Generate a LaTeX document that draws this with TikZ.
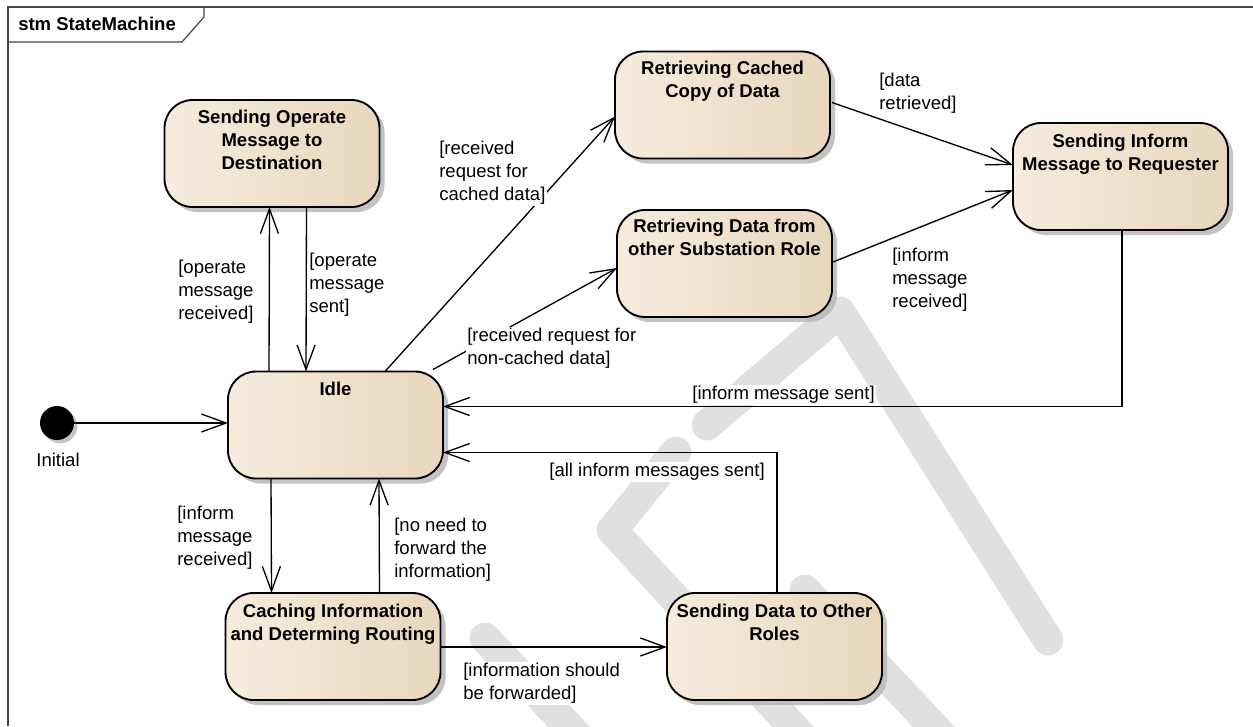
\documentclass[tikz,border=0pt]{standalone}
\usepackage{fontspec}
\setmainfont{Liberation Sans}
\usetikzlibrary{arrows.meta,calc,shadows}

\definecolor{wm}{RGB}{224,224,224}
\definecolor{stL}{RGB}{246,236,221}
\definecolor{stM}{RGB}{252,245,235}
\definecolor{stR}{RGB}{232,215,190}
\definecolor{shd}{RGB}{185,185,185}
\definecolor{frm}{RGB}{70,70,70}

\newcommand\stnfont{\bfseries\fontsize{13.9pt}{17.3pt}\selectfont}
\newcommand\lblfont{\fontsize{13.9pt}{17.3pt}\selectfont}

\tikzset{
  state/.style={rectangle, rounded corners=21pt, draw=black, line width=1.4pt,
    minimum width=161.25pt, minimum height=80.25pt, inner sep=0pt, outer sep=0pt,
    left color=stL, middle color=stM, right color=stR,
    drop shadow={shadow xshift=3.8pt, shadow yshift=-3.8pt, fill=shd, opacity=0.85}},
  stname/.style={font=\stnfont, align=center, inner sep=0pt, anchor=north},
  guard/.style={font=\lblfont, align=left, inner sep=1pt, fill=white},
  tr/.style={draw=black, line width=1pt,
    -{Straight Barb[length=18.5pt, width=13.5pt, line width=1pt]}},
  wmband/.style={draw=wm, line width=23pt, line cap=round, line join=round},
}

\begin{document}
\begin{tikzpicture}[x=0.75pt, y=-0.75pt]
\useasboundingbox (0,0) rectangle (1253,726);
\fill[white] (0,0) rectangle (1253,726);

% faint background mark
\begin{scope}
  \clip (0,0) rectangle (1253,726);
  \draw[wmband] (707,425) -- (840,312) -- (1048,640);
  \draw[wmband] (676,452) -- (612,530) -- (805,740);
  \draw[wmband] (805,590) -- (965,760);
  \draw[wmband] (485,638) -- (605,765);
\end{scope}

% diagram frame and its name tab
\draw[frm, line width=0.9pt] (8,726) -- (8,7) -- (1253,7);
\draw[frm, line width=0.9pt] (8,42) -- (182,42) -- (204,17) -- (204,7);
\node[font=\stnfont, anchor=west, inner sep=0pt] (title) at (18,24) {stm StateMachine};

% states
\node[state] (op)   at (272,153.5) {};
\node[state] (rc)   at (722.5,105) {};
\node[state] (rd)   at (724.5,263.5) {};
\node[state] (si)   at (1120.5,176.5) {};
\node[state] (idle) at (335.5,425) {};
\node[state] (ca)   at (333,646.5) {};
\node[state] (sd)   at (774.5,646.5) {};

\node[stname] (opT)   at ($(op.north)+(0,10)$)   {Sending Operate\\Message to\\Destination};
\node[stname] (rcT)   at ($(rc.north)+(0,9)$)    {Retrieving Cached\\Copy of Data};
\node[stname] (rdT)   at ($(rd.north)+(0,9)$)    {Retrieving Data from\\other Substation Role};
\node[stname] (siT)   at ($(si.north)+(0,11)$)   {Sending Inform\\Message to Requester};
\node[stname] (idleT) at ($(idle.north)+(0,10)$) {Idle};
\node[stname] (caT)   at ($(ca.north)+(0,11)$)   {Caching Information\\and Determing Routing};
\node[stname] (sdT)   at ($(sd.north)+(0,11)$)   {Sending Data to Other\\Roles};

% initial pseudostate
\node[circle, fill=black, minimum size=25.5pt, inner sep=0pt,
  drop shadow={shadow xshift=2.5pt, shadow yshift=-2.5pt, fill=shd, opacity=0.85}] (init) at (57,423) {};
\node[font=\lblfont, inner sep=0pt] (initL) at (58,460) {Initial};

% transitions
\draw[tr] (init) -- (init -| idle.west);
\draw[tr] ($(idle.north west)+(41,0)$) -- ($(op.south west)+(105,0)$);
\draw[tr] ($(op.south west)+(142,0)$) -- ($(idle.north west)+(78,0)$);
\draw[tr] ($(idle.north west)+(157,0)$) -- ($(rc.north west)+(0,65)$);
\draw[tr] ($(idle.north west)+(205,-2)$) -- ($(rd.north west)+(0,58)$);
\draw[tr] ($(rc.north east)+(2,51)$) -- ($(si.north west)+(0,42)$);
\draw[tr] ($(rd.north east)+(1,52)$) -- ($(si.north west)+(0,67)$);
\draw[tr] ($(si.south west)+(109,0)$) |- ($(idle.north east)+(0,35)$);
\draw[tr] ($(sd.north west)+(110,0)$) |- ($(idle.north east)+(0,81)$);
\draw[tr] ($(idle.south west)+(43,0)$) -- ($(ca.north west)+(46,0)$);
\draw[tr] ($(ca.north west)+(154,0)$) -- ($(idle.south west)+(151,0)$);
\draw[tr] ($(ca.north east)+(0,54)$) -- ($(sd.north west)+(0,54)$);

% guards
\node[guard, anchor=north west] (g1)  at (176.7,258.7) {[operate\\message\\received]};
\node[guard, anchor=north west] (g2)  at (307.7,251.7) {[operate\\message\\sent]};
\node[guard, anchor=north west] (g3)  at (437.7,139.7) {[received\\request for\\cached data]};
\node[guard, anchor=north west] (g4)  at (465.7,326.7) {[received request for\\non-cached data]};
\node[guard, anchor=north west] (g5)  at (877.7,71.7)  {[data\\retrieved]};
\node[guard, anchor=north west] (g6)  at (890.7,246.7) {[inform\\message\\received]};
\node[guard, anchor=north east] (g7)  at (876.3,384.7) {[inform message sent]};
\node[guard, anchor=north east] (g8)  at (766.3,461.7) {[all inform messages sent]};
\node[guard, anchor=north west] (g9)  at (175.7,504.7) {[inform\\message\\received]};
\node[guard, anchor=north west] (g10) at (392.7,516.7) {[no need to\\forward the\\information]};
\node[guard, anchor=north west] (g11) at (461.7,661.7) {[information should\\be forwarded]};
\end{tikzpicture}
\end{document}
